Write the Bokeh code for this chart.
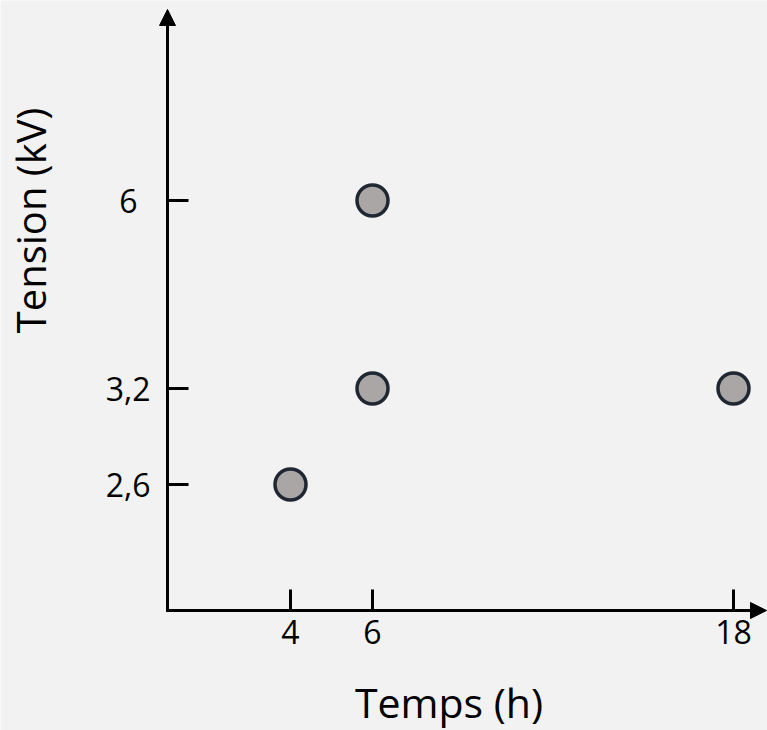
import numpy as np
from bokeh.plotting import figure
from bokeh.models import (Range1d, LinearAxis, FixedTicker, Arrow, NormalHead, Label,
                          ColumnDataSource)
from bokeh.embed import file_html
from bokeh.resources import INLINE

# ---------------- data ----------------
temps_h = [4, 6, 6, 18]
tension_kv = [2.6, 3.2, 6, 3.2]
x_tick_values = [4, 6, 18]
x_tick_labels = ["4", "6", "18"]
y_tick_values = [2.6, 3.2, 6]
y_tick_labels = ["2,6", "3,2", "6"]
x_title = "Temps (h)"
y_title = "Tension (kV)"

# ---------------- layout (schematic, non-linear axes) ----------------
# screen offset (px from origin) of each tick on the schematic axes
X_TICK_SLOTS = [123, 205, 566]
Y_TICK_SLOTS = [126, 222, 410]
# label standoff per y tick (labels in the source are roughly centred)
Y_LABEL_STANDOFF = [17, 17, 30]
X_AXIS_END = 599
Y_AXIS_END = 601

BG = "#f2f2f2"
FONT = "Open Sans"


def to_slot(vals, ticks, slots):
    return np.interp(vals, [0] + list(ticks), [0] + list(slots))


xs = to_slot(temps_h, x_tick_values, X_TICK_SLOTS)
ys = to_slot(tension_kv, y_tick_values, Y_TICK_SLOTS)
xt = to_slot(x_tick_values, x_tick_values, X_TICK_SLOTS)
yt = to_slot(y_tick_values, y_tick_values, Y_TICK_SLOTS)

p = figure(width=767, height=730, output_backend="svg", toolbar_location=None,
           x_range=Range1d(-167, 600), y_range=Range1d(-120, 610),
           x_axis_type=None, y_axis_type=None, min_border=0)
p.background_fill_color = BG
p.border_fill_color = BG
p.outline_line_color = None
p.grid.visible = False


def style_axis(ax):
    ax.axis_line_color = None
    ax.major_tick_in = 21
    ax.major_tick_out = 0
    ax.major_tick_line_width = 3
    ax.major_tick_line_color = "black"
    ax.minor_tick_line_color = None
    ax.major_label_text_font = FONT
    ax.major_label_text_font_size = "32px"
    ax.major_label_text_color = "black"


xaxis = LinearAxis(fixed_location=0, ticker=FixedTicker(ticks=list(xt)),
                   major_label_overrides={float(v): l for v, l in zip(xt, x_tick_labels)})
style_axis(xaxis)
xaxis.major_label_standoff = 9
p.add_layout(xaxis, "below")

for so in sorted(set(Y_LABEL_STANDOFF)):
    sel = [i for i, s in enumerate(Y_LABEL_STANDOFF) if s == so]
    ticks = [float(yt[i]) for i in sel]
    yaxis = LinearAxis(fixed_location=0, ticker=FixedTicker(ticks=ticks),
                       major_label_overrides={float(yt[i]): y_tick_labels[i] for i in sel})
    style_axis(yaxis)
    yaxis.major_label_standoff = so
    p.add_layout(yaxis, "left")

# axes with arrow heads
p.add_layout(Arrow(end=NormalHead(size=16, fill_color="black", line_color="black", line_width=1),
                   x_start=-1.5, y_start=0, x_end=X_AXIS_END, y_end=0,
                   line_width=3, line_color="black"))
p.add_layout(Arrow(end=NormalHead(size=16, fill_color="black", line_color="black", line_width=1),
                   x_start=0, y_start=-1.5, x_end=0, y_end=Y_AXIS_END,
                   line_width=3, line_color="black"))

src = ColumnDataSource(data=dict(x=xs, y=ys))
p.scatter("x", "y", source=src, size=31, fill_color="#aaa6a6",
          line_color="#1e2732", line_width=3.5)

p.add_layout(Label(x=281.5, y=-91, text=x_title, text_font=FONT,
                   text_font_size="41px", text_align="center",
                   text_baseline="alphabetic", text_color="black"))
p.add_layout(Label(x=-137, y=390, text=y_title, text_font=FONT, angle=np.pi / 2,
                   text_font_size="40px", text_align="center",
                   text_baseline="alphabetic", text_color="black"))

open("out.html", "w").write(file_html(p, INLINE))
